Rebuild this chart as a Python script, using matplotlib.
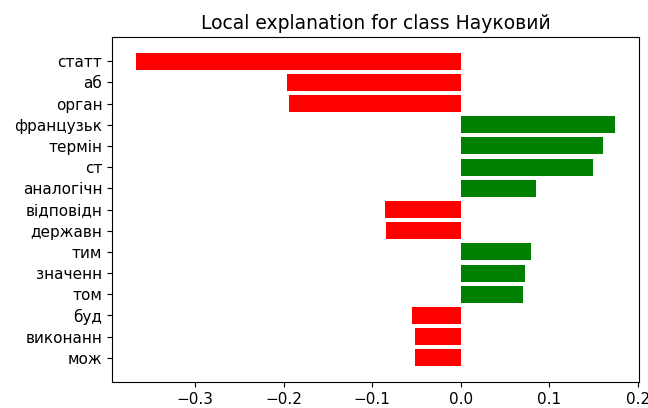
import numpy as np
import matplotlib
matplotlib.use('Agg')
import matplotlib.pyplot as plt

# LIME weights, top feature first
features = ['статт', 'аб', 'орган', 'французьк', 'термін', 'ст', 'аналогічн',
            'відповідн', 'державн', 'тим', 'значенн', 'том', 'буд', 'виконанн', 'мож']
weights = [-0.367, -0.196, -0.194, 0.1745, 0.1605, 0.150, 0.0855,
           -0.085, -0.084, 0.080, 0.073, 0.071, -0.055, -0.052, -0.052]
class_name = 'Науковий'

vals = weights[::-1]
names = features[::-1]
colors = ['green' if v > 0 else 'red' for v in vals]
pos = np.arange(len(vals)) + .5

fig = plt.figure(figsize=(6.48, 4.08), dpi=100)
ax = fig.add_axes([112/648, 26/408, 527/648, 345/408])
ax.barh(pos, vals, align='center', color=colors)
ax.set_yticks(pos)
ax.set_yticklabels(names)
ax.tick_params('both', labelsize=11)
ax.set_title('Local explanation for class ' + class_name, fontsize=13.5)

fig.savefig('out.png', dpi=100)
